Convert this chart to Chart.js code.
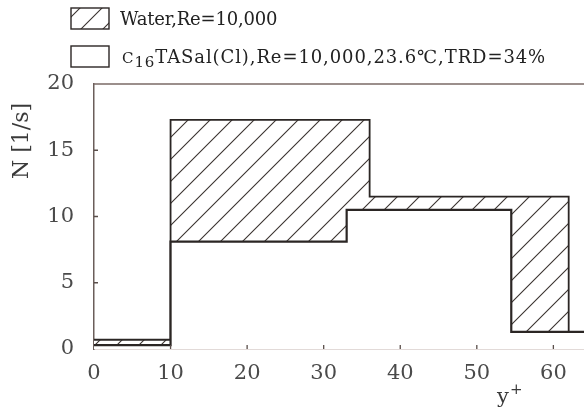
<!DOCTYPE html>
<html>
<head>
<meta charset="utf-8">
<script src="https://cdn.jsdelivr.net/npm/chart.js@4.4.1/dist/chart.umd.min.js"></script>
<style>
  html, body { margin: 0; padding: 0; background: #fff; }
  #wrap { width: 584px; height: 410px; }
</style>
</head>
<body>
<div id="wrap"><canvas id="graph-n" width="584" height="410"></canvas></div>
<script>
// bin edges (y+) and heights N [1/s] for each histogram
const waterEdges = [0, 10, 36, 62];
const waterN = [0.7, 17.3, 11.5];
const surfEdges = [0, 10, 33, 54.5, 70];
const surfN = [0.3, 8.1, 10.5, 1.3];

const yTicks = [0, 5, 10, 15, 20];
const xTicks = [0, 10, 20, 30, 40, 50, 60];

const waterLabel = 'Water,Re=10,000';
const surfLabel = ['C', '16', 'TASal(Cl),Re=10,000,23.6\u2103,TRD=34%'];

const serif = '"DejaVu Serif", "Liberation Serif", serif';
const lineColor = '#2b2624';

// stepped line needs one point per edge, last one drops back to 0
function toSteps(edges, vals) {
    return edges.map(function(x, i) {
        return { x: x, y: i < vals.length ? vals[i] : 0 };
    });
}

// diagonal hatch for the water bars
function makeHatch() {
    var s = 22;
    var c = document.createElement('canvas');
    c.width = s; c.height = s;
    var g = c.getContext('2d');
    g.fillStyle = '#fff';
    g.fillRect(0, 0, s, s);
    g.strokeStyle = '#3a3330';
    g.lineWidth = 1.1;
    g.beginPath();
    g.moveTo(0, s); g.lineTo(s, 0);
    g.moveTo(-2, 2); g.lineTo(2, -2);
    g.moveTo(s - 2, s + 2); g.lineTo(s + 2, s - 2);
    g.stroke();
    return g.createPattern(c, 'repeat');
}

var ctx = document.getElementById('graph-n').getContext('2d');
var hatch = makeHatch();

// legend, axis titles and inward tick marks
var decor = {
    id: 'decor',
    afterDraw: function(chart) {
        var c = chart.ctx;
        var xs = chart.scales.x, ys = chart.scales.y;
        c.save();

        // tick marks pointing into the plot
        c.strokeStyle = '#5a4e4a';
        c.lineWidth = 1.3;
        c.beginPath();
        yTicks.slice(1, -1).forEach(function(v) {
            var p = ys.getPixelForValue(v);
            c.moveTo(xs.left, p); c.lineTo(xs.left + 4, p);
        });
        xTicks.slice(1).forEach(function(v) {
            var p = xs.getPixelForValue(v);
            c.moveTo(p, ys.bottom); c.lineTo(p, ys.bottom - 4);
        });
        c.stroke();

        // legend boxes
        var bx = 71, bw = 38, bh = 21;
        var rows = [8, 46];
        c.lineWidth = 1.4;
        c.strokeStyle = lineColor;
        c.fillStyle = hatch;
        c.fillRect(bx, rows[0], bw, bh);
        c.strokeRect(bx, rows[0], bw, bh);
        c.fillStyle = '#fff';
        c.fillRect(bx, rows[1], bw, bh);
        c.strokeRect(bx, rows[1], bw, bh);

        c.fillStyle = '#222';
        c.textBaseline = 'alphabetic';
        c.textAlign = 'left';
        c.font = '18px ' + serif;
        c.letterSpacing = '-0.2px';
        c.fillText(waterLabel, 120, rows[0] + 17);
        var tx = 122, ty = rows[1] + 17;
        c.letterSpacing = '0.9px';
        c.font = '15px ' + serif;
        c.fillText(surfLabel[0], tx, ty);
        tx += c.measureText(surfLabel[0]).width;
        c.fillText(surfLabel[1], tx, ty + 4);
        tx += c.measureText(surfLabel[1]).width;
        c.font = '18px ' + serif;
        c.fillText(surfLabel[2], tx, ty);
        c.letterSpacing = '0px';

        // y axis title
        c.fillStyle = '#3a3a3a';
        c.font = '22px ' + serif;
        c.translate(22, 141);
        c.rotate(-Math.PI / 2);
        c.textAlign = 'center';
        c.textBaseline = 'middle';
        c.fillText('N [1/s]', 0, 0);
        c.setTransform(1, 0, 0, 1, 0, 0);

        // x axis title y+
        c.textAlign = 'left';
        c.textBaseline = 'alphabetic';
        c.font = '21px ' + serif;
        c.fillText('y', 497, 403);
        c.font = '15px ' + serif;
        c.fillText('+', 510, 394);
        c.restore();
    }
};

var myChart = new Chart(ctx, {
    type: 'line',
    data: {
        datasets: [{
            label: waterLabel,
            data: toSteps(waterEdges, waterN),
            stepped: 'before',
            fill: 'origin',
            backgroundColor: hatch,
            borderColor: lineColor,
            borderWidth: 1.8,
            pointRadius: 0,
            order: 1
        }, {
            label: surfLabel.join(''),
            data: toSteps(surfEdges, surfN),
            stepped: 'before',
            fill: 'origin',
            backgroundColor: '#fff',
            borderColor: lineColor,
            borderWidth: 2.2,
            pointRadius: 0,
            order: 0
        }]
    },
    options: {
        responsive: false,
        animation: false,
        events: [],
        layout: { padding: { left: 0, top: 84, right: 0, bottom: 0 } },
        plugins: { legend: { display: false }, tooltip: { enabled: false } },
        scales: {
            x: {
                type: 'linear',
                min: 0,
                max: 64,
                afterFit: function(s) { s.height = 61; },
                grid: { display: false, drawTicks: false },
                border: { display: true, color: '#8a6e66', width: 1.2 },
                ticks: {
                    stepSize: 10,
                    includeBounds: false,
                    padding: 12,
                    color: '#4a4a4a',
                    font: { family: serif, size: 21 }
                }
            },
            y: {
                min: 0,
                max: 20,
                afterFit: function(s) { s.width = 94; },
                grid: { display: false, drawTicks: false },
                border: { display: true, color: '#6b5e5a', width: 1.5 },
                ticks: {
                    stepSize: 5,
                    padding: 20,
                    color: '#4a4a4a',
                    font: { family: serif, size: 21 }
                }
            }
        }
    },
    plugins: [{
        id: 'topLine',
        beforeDatasetsDraw: function(chart) {
            var a = chart.chartArea, c = chart.ctx;
            c.save();
            c.strokeStyle = '#7a6a66';
            c.lineWidth = 1.5;
            c.beginPath();
            c.moveTo(a.left, a.top); c.lineTo(a.right, a.top);
            c.stroke();
            c.restore();
        }
    }, decor]
});
</script>
</body>
</html>
